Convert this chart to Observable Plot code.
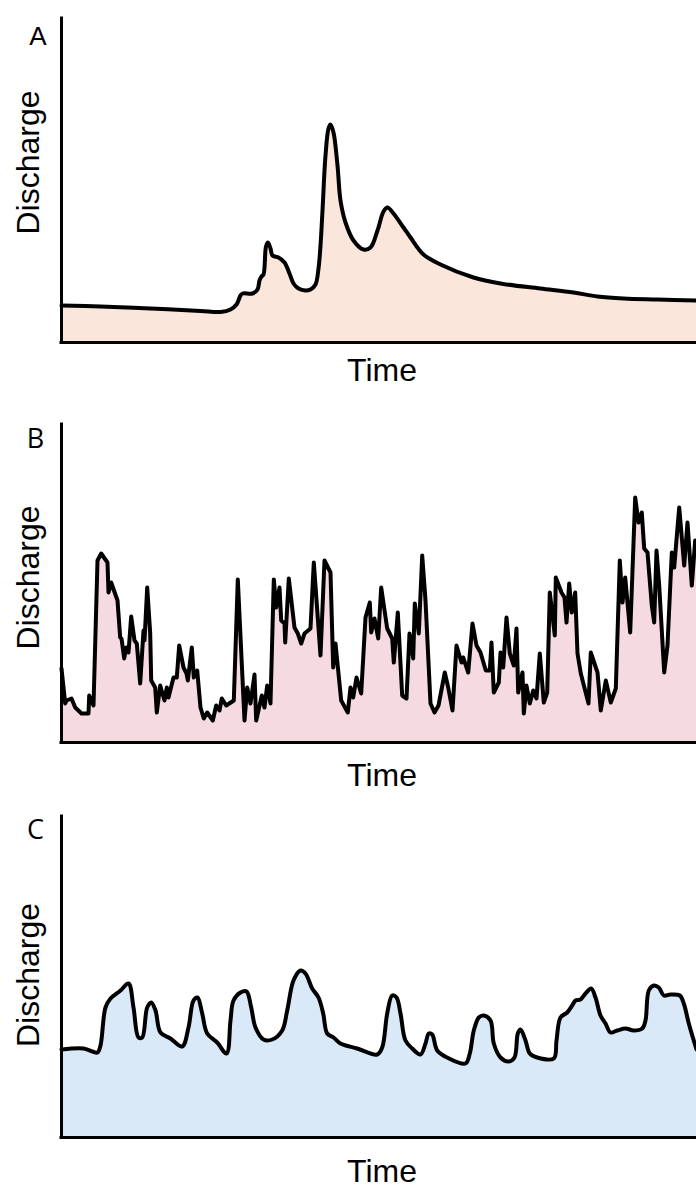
<!DOCTYPE html>
<html>
<head>
<meta charset="utf-8">
<script src="https://cdn.jsdelivr.net/npm/d3@7"></script>
<script src="https://cdn.jsdelivr.net/npm/@observablehq/plot@0.6"></script>
<style>
  html, body { margin: 0; padding: 0; background: #fff; }
  #charts svg { display: block; }
</style>
</head>
<body>
<div id="charts"></div>
<script>
// Panel A: a single storm hydrograph (flashy peak, long recession)
const timeA = [0,39,89,139,159,169,175,179,181,191,196,198,200,202,204.5,206.5,209,211,217,223,228,232,237,244,249,254,257,259,261,264,267,269,272,276,279,284,292,302,309,316,322,326,332,342,349,362,379,412,439,479,512,536,562,596,635];
const dischargeA = [37,36,34,31.5,30.5,33,38,47,49,49,53,62,66,68,96,100,94,87,85,80,69,59,54,52,53,58,74,97,132,187,214,218,210,177,142,120,102,93,95,112,131,135,129,115,105,88,78,65,59,54,50,46,44,43,42];

// Panel B: a noisy, rapidly fluctuating record
const timeB = [0,3.7,5,10,13.7,20,27,27.7,32,36,39.7,46,47,49.7,56,58.7,60,62.7,64.7,67,69.7,73,75.3,78.7,82,83,85.7,88.7,89.7,93.7,95.3,98.7,103,105.3,107,112,115.3,117.7,122,125,126.3,130.3,132.3,135.7,139,142.3,145.7,151.3,154.7,158,160.3,164.7,172.3,176.3,183,185.7,189,193,194.7,200.3,203,205.7,209,212.3,214.7,218,219.7,223,223.7,227.3,233,236.3,239.7,243,249,252.3,259,263,269,271.7,274,279.7,286.3,289,291.7,295,299.7,304,308.3,309.7,313,316.7,319.7,325.7,330.7,332.3,336.3,340.7,345,348,351.7,353.3,357.3,360.7,364,369,373,377,383.3,386.7,391,395,400,401.7,406.7,411,415,419,424.3,428.3,430,432.3,437.3,439,441.7,445,448.3,452.3,455,456.7,461,462.3,465,468.3,471.7,475,478.3,482.3,485.7,488.3,493.3,494.3,500,503,505,507.7,510.3,513.7,516,519.3,527,529.3,536,539.3,544.3,549.3,554.3,558.3,561,563.7,568.7,573.7,577,580.3,582.7,586,590.3,592.7,595,597.7,602.7,606,610.3,612.7,617.7,622.7,626,630.3,633.7,635];
const dischargeB = [74,39,42,44,35,29,29,47,37,182,189,180,150,160,142,105,104,84,95,90,126,102,99,59,112,102,155,109,62,55,30,57,42,55,45,65,65,97,75,69,62,95,65,72,35,24,30,22,37,32,44,37,42,163,22,55,39,68,22,47,35,57,39,163,135,155,122,119,100,164,115,109,99,109,114,180,87,182,170,75,99,42,30,55,45,65,49,125,140,110,124,104,155,114,104,80,130,47,44,109,84,139,109,187,142,39,30,37,70,55,32,97,80,85,70,119,97,90,72,72,100,50,60,90,75,125,89,77,114,50,70,29,57,39,52,44,89,40,50,150,107,165,150,145,120,159,130,150,89,69,39,90,70,32,62,40,54,182,140,165,110,245,220,230,194,190,137,120,192,157,70,97,190,175,235,177,220,157,202,194];

// Panel C: a steadier record with moderate, rounded peaks
const timeC = [0,22,31,36,39,44,49,59,67,72,77,80.7,85.7,89.7,94,99,109,120.7,127,132,136,140.7,145.7,155.7,165,169,172,179,185,189.7,194,202,210.7,220.7,225.7,232,239,244,250.7,257,261.7,265.7,272,279,295.7,315.7,320.7,325.7,330.7,335,339,344,350.7,359,364,367.3,370.7,375.7,385.7,404,408.3,412.3,417.3,422.3,429,432.3,439,447.3,453,456.3,459,464,468.3,475.7,492.3,495,499,505.7,510.7,514,519,524,529.7,534,539,544,549,555.7,564,572.3,580.7,584,587.3,592.3,597.3,602.3,609,618.3,622.3,627.3,635];
const dischargeC = [88,89,86,85,92,130,139,147,154,130,100,100,130,135,127,105,99,91,110,137,140,124,104,95,84,117,137,145,146,130,110,98,98,107,127,157,167,164,149,140,124,104,100,94,89,83,90,124,142,140,124,97,89,83,94,104,103,87,80,74,84,107,120,122,117,94,80,76,80,104,108,97,84,80,79,97,120,125,132,137,138,144,149,140,122,114,105,107,109,107,109,117,147,152,150,142,143,142,134,114,88];

const panels = [
  {letter: "A", letterFont: "Liberation Sans, Arial, sans-serif", letterSize: 26, letterDx: -23.5, letterDy: 18,
   time: timeA, discharge: dischargeA, fill: "#fae6da", curve: "catmull-rom", strokeWidth: 4,
   marginTop: 18, marginBottom: 54, labelDy: -18, timeDy: 28},
  {letter: "B", letterFont: "Open Sans, sans-serif", letterSize: 27, letterDx: -26, letterDy: 15,
   time: timeB, discharge: dischargeB, fill: "#f6dae2", curve: "linear", strokeWidth: 4,
   marginTop: 28, marginBottom: 50, labelDy: -6, timeDy: 33},
  {letter: "C", letterFont: "Open Sans, sans-serif", letterSize: 27, letterDx: -26, letterDy: 14,
   time: timeC, discharge: dischargeC, fill: "#dae9f7", curve: "catmull-rom", strokeWidth: 4,
   marginTop: 24, marginBottom: 51, labelDy: -2, timeDy: 34}
];

const W = 696, H = 396, ML = 61;
const root = document.getElementById("charts");

for (const p of panels) {
  const data = p.time.map((t, i) => ({t, q: p.discharge[i]}));
  const innerH = H - p.marginTop - p.marginBottom;
  const chart = Plot.plot({
    width: W,
    height: H,
    marginLeft: ML,
    marginRight: 0,
    marginTop: p.marginTop,
    marginBottom: p.marginBottom,
    style: {fontFamily: "Liberation Sans, Arial, sans-serif", background: "#fff", overflow: "visible"},
    x: {domain: [0, 635], axis: null},
    y: {domain: [0, innerH], axis: null},
    marks: [
      Plot.areaY(data, {x: "t", y: "q", fill: p.fill, curve: p.curve}),
      Plot.lineY(data, {x: "t", y: "q", stroke: "#000", strokeWidth: p.strokeWidth, curve: p.curve, strokeLinejoin: "round"}),
      Plot.ruleX([0], {stroke: "#000", strokeWidth: 3, strokeLinecap: "square"}),
      Plot.ruleY([0], {stroke: "#000", strokeWidth: 3, strokeLinecap: "square"}),
      Plot.text(["Discharge"], {frameAnchor: "left", textAnchor: "middle", lineAnchor: "middle", rotate: -90, dx: -33, dy: p.labelDy, fontSize: 32, fill: "#000"}),
      Plot.text(["Time"], {frameAnchor: "bottom", textAnchor: "middle", lineAnchor: "middle", dx: 3, dy: p.timeDy, fontSize: 32, fill: "#000"}),
      Plot.text([p.letter], {frameAnchor: "top-left", textAnchor: "middle", lineAnchor: "middle", dx: p.letterDx, dy: p.letterDy, fontSize: p.letterSize, fontFamily: p.letterFont, fill: "#000"})
    ]
  });
  root.appendChild(chart);
}
</script>
</body>
</html>
